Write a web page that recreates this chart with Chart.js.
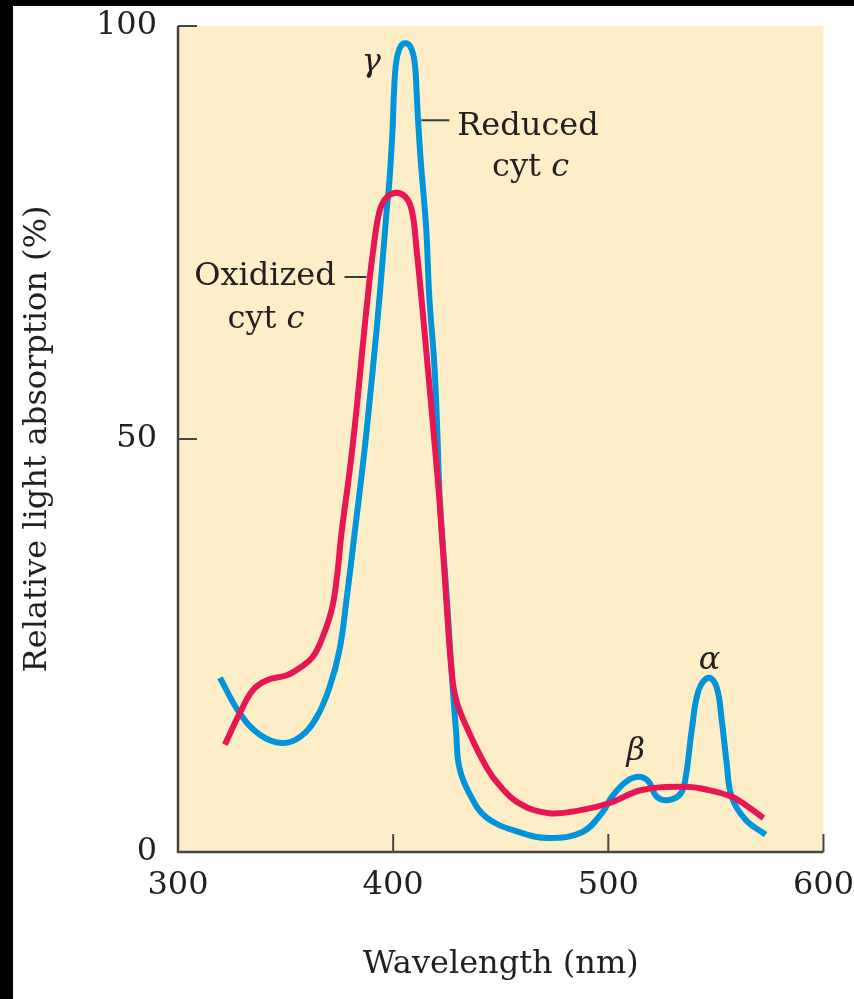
<!DOCTYPE html>
<html>
<head>
<meta charset="utf-8">
<script src="https://cdn.jsdelivr.net/npm/chart.js@4.4.1/dist/chart.umd.min.js"></script>
<style>
    html, body { margin: 0; padding: 0; background: #000; }
    #wrap { position: absolute; left: 13px; top: 6px; width: 841px; height: 993px; background: #fff; }
</style>
</head>
<body>
<div id="wrap"><canvas id="spectrum"></canvas></div>
<script>
// Absorption spectra of cytochrome c
const reducedWavelength = [319.5, 328.7, 338.0, 348.2, 356.6, 364.4, 370.5, 375.1, 378.3, 382.1, 385.8, 387.7,
    392.3, 395.0, 396.9, 398.3, 399.7, 400.4, 401.4, 403.2, 405.7, 408.2, 410.0, 410.9, 411.6, 412.9, 415.4,
    416.8, 419.1, 420.5, 421.7, 425.0, 427.5, 429.3, 430.7, 435.4, 443.3, 458.6, 472.5, 487.8, 497.0, 501.7,
    508.2, 514.2, 518.8, 522.5, 528.1, 533.7, 536.0, 538.8, 542.0, 546.6, 550.3, 552.7, 555.0, 557.3, 563.8, 573.1];
const reducedAbsorption = [21.1, 16.8, 14.2, 13.2, 13.9, 16.3, 20.0, 24.5, 30.5, 38.6, 46.6, 51.1,
    63.2, 71.3, 77.4, 81.4, 87.4, 92.0, 95.6, 97.4, 97.9, 97.4, 95.6, 92.0, 88.5, 83.4, 75.3,
    67.2, 59.2, 51.1, 42.6, 30.5, 20.5, 14.4, 10.3, 7.1, 4.2, 2.4, 1.7, 2.4, 4.7, 6.7,
    8.5, 9.1, 8.5, 6.7, 6.3, 7.1, 9.1, 14.8, 19.6, 21.1, 20.0, 16.0, 10.8, 6.7, 3.9, 2.1];

const oxidizedWavelength = [321.8, 328.7, 334.8, 341.3, 350.5, 356.6, 362.6, 367.2, 371.4, 373.7, 376.0, 380.0,
    382.8, 385.8, 389.0, 390.9, 392.6, 394.6, 397.6, 401.5, 405.4, 408.0, 409.6, 410.8, 413.1, 415.9, 418.7,
    421.5, 424.7, 427.0, 429.3, 435.4, 443.3, 449.3, 458.6, 472.5, 487.8, 500.3, 515.6, 536.0, 546.6, 557.3,
    563.8, 572.1];
const oxidizedAbsorption = [13.0, 16.8, 19.6, 20.8, 21.4, 22.3, 23.6, 26.0, 29.3, 32.9, 38.6, 46.6,
    53.1, 61.1, 69.2, 73.2, 76.3, 78.3, 79.4, 79.8, 79.4, 78.3, 76.3, 73.2, 67.2, 59.2, 51.1,
    42.6, 30.5, 22.4, 18.4, 14.4, 10.3, 8.1, 5.9, 4.7, 5.1, 5.9, 7.5, 7.9, 7.5, 6.7,
    5.7, 4.1];

const xTicks = [300, 400, 500, 600];
const yTicks = [0, 50, 100];

const textColor = "#231f20";
const axisColor = "#454545";
const serif = "'DejaVu Serif', serif";

function toPoints(xs, ys) {
    return xs.map((x, i) => ({ x: x, y: ys[i] }));
}

// cream plot area, inward ticks and the labels inside the plot
const decorations = {
    id: "decorations",
    beforeDatasetsDraw(chart) {
        const { ctx, chartArea } = chart;
        ctx.save();
        ctx.fillStyle = "#fdeec8";
        ctx.fillRect(chartArea.left, chartArea.top, chartArea.right - chartArea.left, chartArea.bottom - chartArea.top);
        ctx.restore();
    },
    afterDatasetsDraw(chart) {
        const { ctx, chartArea, scales } = chart;
        const xs = scales.x, ys = scales.y;
        ctx.save();
        ctx.strokeStyle = axisColor;
        ctx.lineWidth = 2.5;
        ctx.beginPath();
        ctx.moveTo(chartArea.left, ys.getPixelForValue(100));
        ctx.lineTo(chartArea.left, chartArea.bottom);
        ctx.lineTo(xs.getPixelForValue(600), chartArea.bottom);
        ctx.stroke();
        ctx.lineWidth = 2;
        yTicks.slice(1).forEach(v => {
            const py = ys.getPixelForValue(v);
            ctx.beginPath();
            ctx.moveTo(chartArea.left, py);
            ctx.lineTo(chartArea.left + 19, py);
            ctx.stroke();
        });
        xTicks.slice(1).forEach(v => {
            const px = xs.getPixelForValue(v);
            ctx.beginPath();
            ctx.moveTo(px, chartArea.bottom);
            ctx.lineTo(px, chartArea.bottom - 18);
            ctx.stroke();
        });

        // leader lines
        ctx.lineWidth = 2;
        ctx.strokeStyle = "#3a3a3a";
        ctx.beginPath();
        ctx.moveTo(xs.getPixelForValue(413.1), ys.getPixelForValue(88.6));
        ctx.lineTo(xs.getPixelForValue(426.1), ys.getPixelForValue(88.6));
        ctx.moveTo(xs.getPixelForValue(377.4), ys.getPixelForValue(69.6));
        ctx.lineTo(xs.getPixelForValue(387.6), ys.getPixelForValue(69.6));
        ctx.stroke();

        ctx.fillStyle = textColor;
        ctx.textBaseline = "middle";
        const regular = "32px " + serif;
        const italic = "italic 32px " + serif;

        ctx.font = regular;
        ctx.textAlign = "left";
        ctx.fillText("Reduced", xs.getPixelForValue(429.8), ys.getPixelForValue(87.8));
        ctx.textAlign = "right";
        ctx.fillText("Oxidized", xs.getPixelForValue(373.3), ys.getPixelForValue(69.6));

        // "cyt c" with an italic c
        function cyt(xLeft, yVal) {
            const px = xs.getPixelForValue(xLeft), py = ys.getPixelForValue(yVal);
            ctx.textAlign = "left";
            ctx.font = regular;
            ctx.fillText("cyt ", px, py);
            const w = ctx.measureText("cyt ").width;
            ctx.font = italic;
            ctx.fillText("c", px + w, py);
        }
        cyt(446.0, 82.9);
        cyt(323.0, 64.4);

        ctx.font = italic;
        ctx.textAlign = "center";
        ctx.fillText("γ", xs.getPixelForValue(389.9), ys.getPixelForValue(95.6));
        ctx.fillText("β", xs.getPixelForValue(512.8), ys.getPixelForValue(12.1));
        ctx.fillText("α", xs.getPixelForValue(547.1), ys.getPixelForValue(23.2));
        ctx.restore();
    }
};

new Chart(document.getElementById("spectrum"), {
    type: "line",
    data: {
        datasets: [{
            label: "Oxidized cyt c",
            data: toPoints(oxidizedWavelength, oxidizedAbsorption),
            borderColor: "#e91654",
            borderWidth: 6,
            pointRadius: 0,
            tension: 0.4,
            fill: false
        }, {
            label: "Reduced cyt c",
            data: toPoints(reducedWavelength, reducedAbsorption),
            borderColor: "#0095da",
            borderWidth: 6,
            pointRadius: 0,
            tension: 0.4,
            fill: false
        }]
    },
    options: {
        responsive: true,
        maintainAspectRatio: false,
        animation: false,
        layout: { padding: { left: 0, top: 20, right: 29, bottom: 0 } },
        plugins: {
            legend: { display: false },
            tooltip: { enabled: false }
        },
        scales: {
            x: {
                type: "linear",
                min: 300,
                max: 600,
                afterBuildTicks: scale => { scale.ticks = xTicks.map(v => ({ value: v })); },
                afterFit: scale => { scale.height = 147; },
                grid: { display: false, drawTicks: true, tickLength: 14 },
                border: { display: false },
                ticks: { color: textColor, padding: 0, font: { family: serif, size: 32 } },
                title: {
                    display: true,
                    text: "Wavelength (nm)",
                    color: textColor,
                    padding: { top: 0, bottom: 15 },
                    font: { family: serif, size: 32 }
                }
            },
            y: {
                min: 0,
                max: 100,
                afterBuildTicks: scale => { scale.ticks = yTicks.map(v => ({ value: v })); },
                afterFit: scale => { scale.width = 165; },
                grid: { display: false, drawTicks: true, tickLength: 21 },
                border: { display: false },
                ticks: { color: textColor, padding: 0, font: { family: serif, size: 32 } },
                title: {
                    display: true,
                    text: "Relative light absorption (%)",
                    color: textColor,
                    padding: { top: 5, bottom: 0 },
                    font: { family: serif, size: 32 }
                }
            }
        }
    },
    plugins: [decorations]
});
</script>
</body>
</html>
